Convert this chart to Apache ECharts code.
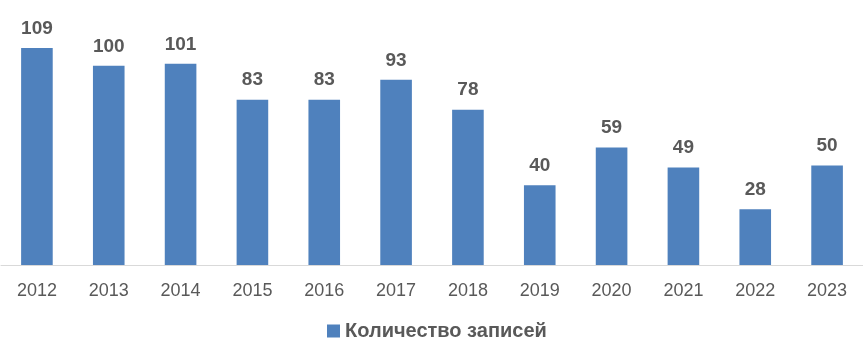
<!DOCTYPE html>
<html>
<head>
<meta charset="utf-8">
<script src="https://cdn.jsdelivr.net/npm/echarts@6/dist/echarts.min.js"></script>
<style>
  html, body { margin: 0; padding: 0; background: #fff; }
  #chart { width: 863px; height: 355px; }
</style>
</head>
<body>
<div id="chart"></div>
<script>
  var years = ['2012', '2013', '2014', '2015', '2016', '2017', '2018', '2019', '2020', '2021', '2022', '2023']
  var counts = [109, 100, 101, 83, 83, 93, 78, 40, 59, 49, 28, 50]
  var seriesName = 'Количество записей'

  var myChart = echarts.init(document.getElementById('chart'))
  myChart.setOption({
    animation: false,
    textStyle: { fontFamily: 'Liberation Sans' },
    grid: { left: 1, right: 0, top: 26, height: 239 },
    legend: {
      bottom: 9,
      left: 322,
      itemWidth: 13,
      itemHeight: 13,
      icon: 'rect',
      itemGap: 6,
      textStyle: { color: '#595959', fontSize: 20, fontWeight: 'bold' },
      data: [seriesName]
    },
    xAxis: {
      type: 'category',
      data: years,
      axisTick: { show: false },
      axisLine: { lineStyle: { color: '#d9d9d9' } },
      axisLabel: { color: '#595959', fontSize: 18, margin: 17 }
    },
    yAxis: {
      type: 'value',
      min: 0,
      max: 120,
      show: false,
      splitLine: { show: false }
    },
    series: [{
      name: seriesName,
      type: 'bar',
      data: counts,
      barWidth: '44%',
      itemStyle: { color: '#4f81bd' },
      label: {
        show: true,
        position: 'top',
        distance: 10,
        color: '#595959',
        fontSize: 19,
        fontWeight: 'bold'
      }
    }]
  })
</script>
</body>
</html>
